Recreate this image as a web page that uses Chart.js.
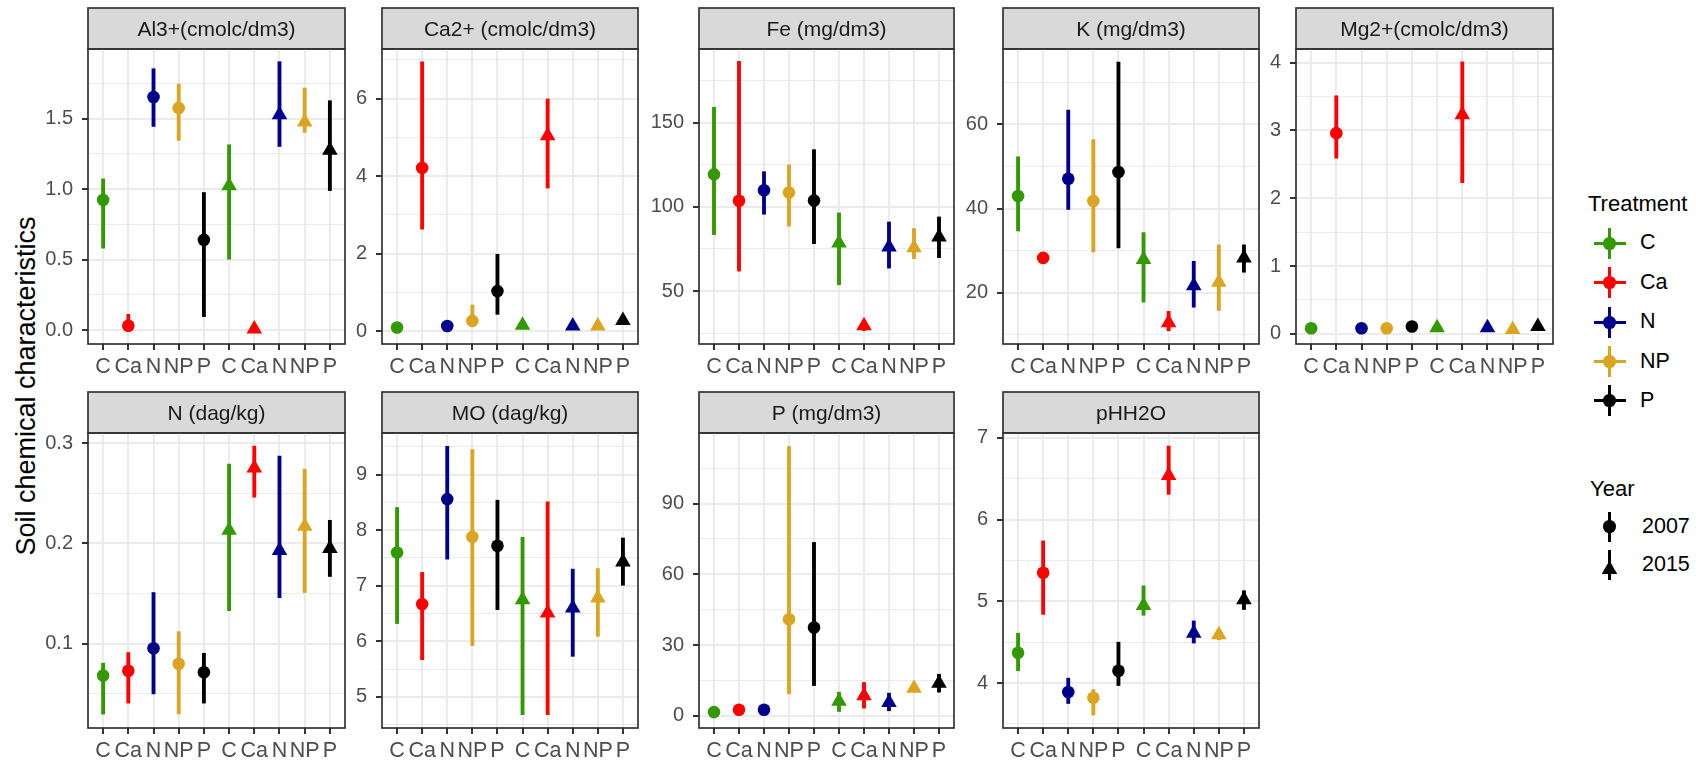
<!DOCTYPE html>
<html>
<head>
<meta charset="utf-8">
<title>Soil chemical characteristics</title>
<script src="https://cdn.jsdelivr.net/npm/chart.js@4.4.0/dist/chart.umd.min.js"></script>
<style>
  html, body { margin: 0; padding: 0; background: #ffffff; }
  body { width: 1696px; height: 764px; position: relative; overflow: hidden;
         font-family: "Liberation Sans", Arial, sans-serif; }
  canvas { position: absolute; }
  .ytitle { position: absolute; left: 26px; top: 386px; white-space: nowrap;
            transform: translate(-50%, -50%) rotate(-90deg);
            font-size: 27px; color: #000000; }
  .lg-title { position: absolute; font-size: 22px; color: #000000; line-height: 1; transform: translateY(-50%); }
  .lg-label { position: absolute; font-size: 21.5px; color: #000000; line-height: 1; transform: translateY(-50%); }
  .lg-part { position: absolute; }
</style>
</head>
<body>
<div class="ytitle">Soil chemical characteristics</div>
<script>
// ---- categories -------------------------------------------------------
const treatments = ['C', 'Ca', 'N', 'NP', 'P'];
const years = ['2007', '2015'];
const xLabels = ['C', 'Ca', 'N', 'NP', 'P', 'C', 'Ca', 'N', 'NP', 'P'];
const xYears = ['2007', '2007', '2007', '2007', '2007', '2015', '2015', '2015', '2015', '2015'];

// ---- Al3+ (cmolc/dm3) ---------------------------------------------------
const alMean = [0.924, 0.030, 1.654, 1.576, 0.640, 1.024, 0.007, 1.528, 1.476, 1.277];
const alLow  = [0.581, 0.000, 1.445, 1.346, 0.095, 0.502, -0.004, 1.303, 1.403, 0.990];
const alHigh = [1.073, 0.111, 1.855, 1.746, 0.976, 1.315, 0.020, 1.905, 1.718, 1.628];
const alTicks = [0, 0.5, 1, 1.5];
const alTickLabels = ['0.0', '0.5', '1.0', '1.5'];

// ---- Ca2+ (cmolc/dm3) ---------------------------------------------------
const caMean = [0.09, 4.21, 0.13, 0.26, 1.03, 0.15, 5.04, 0.13, 0.13, 0.27];
const caLow  = [0.03, 2.63, 0.08, 0.11, 0.43, 0.10, 3.69, 0.09, 0.09, 0.20];
const caHigh = [0.13, 6.95, 0.18, 0.67, 1.98, 0.20, 5.99, 0.17, 0.17, 0.36];
const caTicks = [0, 2, 4, 6];
const caTickLabels = ['0', '2', '4', '6'];

// ---- Fe (mg/dm3) --------------------------------------------------------
const feMean = [119.3, 103.6, 109.9, 108.5, 103.8, 78.5, 29.4, 76.1, 75.7, 82.1];
const feLow  = [83.5, 61.8, 95.6, 88.5, 78.1, 53.7, 26.5, 63.6, 69.2, 69.8];
const feHigh = [159.2, 186.5, 120.9, 124.9, 134.0, 96.4, 32.0, 91.0, 87.1, 94.0];
const feTicks = [50, 100, 150];
const feTickLabels = ['50', '100', '150'];

// ---- K (mg/dm3) ---------------------------------------------------------
const kMean = [43.0, 28.3, 47.1, 41.8, 48.7, 27.9, 12.9, 21.7, 22.5, 28.3];
const kLow  = [34.7, 27.0, 39.8, 29.7, 30.7, 17.8, 11.0, 16.6, 15.8, 24.9];
const kHigh = [52.3, 29.6, 63.4, 56.4, 74.8, 34.3, 15.6, 27.5, 31.4, 31.4];
const kTicks = [20, 40, 60];
const kTickLabels = ['20', '40', '60'];

// ---- Mg2+ (cmolc/dm3) ---------------------------------------------------
const mgMean = [0.084, 2.96, 0.084, 0.084, 0.11, 0.09, 3.23, 0.09, 0.065, 0.11];
const mgLow  = [0.06, 2.59, 0.06, 0.06, 0.08, 0.06, 2.23, 0.06, 0.045, 0.08];
const mgHigh = [0.11, 3.51, 0.11, 0.11, 0.14, 0.12, 4.01, 0.12, 0.085, 0.14];
const mgTicks = [0, 1, 2, 3, 4];
const mgTickLabels = ['0', '1', '2', '3', '4'];

// ---- N (dag/kg) ---------------------------------------------------------
const nMean = [0.0683, 0.073, 0.0955, 0.080, 0.0716, 0.213, 0.275, 0.193, 0.217, 0.195];
const nLow  = [0.0299, 0.0408, 0.050, 0.030, 0.0408, 0.133, 0.246, 0.146, 0.151, 0.167];
const nHigh = [0.0806, 0.0912, 0.151, 0.112, 0.0905, 0.279, 0.297, 0.287, 0.274, 0.223];
const nTicks = [0.1, 0.2, 0.3];
const nTickLabels = ['0.1', '0.2', '0.3'];

// ---- MO (dag/kg) --------------------------------------------------------
const moMean = [7.60, 6.67, 8.56, 7.88, 7.72, 6.75, 6.51, 6.60, 6.78, 7.43];
const moLow  = [6.32, 5.67, 7.48, 5.92, 6.57, 4.68, 4.68, 5.73, 6.09, 7.01];
const moHigh = [8.41, 7.24, 9.51, 9.45, 8.54, 7.87, 8.51, 7.30, 7.31, 7.86];
const moTicks = [5, 6, 7, 8, 9];
const moTickLabels = ['5', '6', '7', '8', '9'];

// ---- P (mg/dm3) ---------------------------------------------------------
const pMean = [1.55, 2.54, 2.54, 40.9, 37.4, 6.1, 8.5, 5.6, 11.7, 13.8];
const pLow  = [0.5, 1.6, 1.6, 9.3, 12.8, 1.8, 3.2, 2.1, 10.5, 10.0];
const pHigh = [2.3, 3.5, 3.5, 114.2, 73.5, 10.0, 14.1, 9.6, 12.9, 17.6];
const pTicks = [0, 30, 60, 90];
const pTickLabels = ['0', '30', '60', '90'];

// ---- pH (H2O) -----------------------------------------------------------
const phMean = [4.37, 5.35, 3.89, 3.82, 4.15, 4.95, 6.54, 4.61, 4.59, 5.02];
const phLow  = [4.15, 4.84, 3.75, 3.61, 3.97, 4.83, 6.31, 4.49, 4.53, 4.90];
const phHigh = [4.61, 5.74, 4.06, 3.92, 4.50, 5.19, 6.90, 4.76, 4.65, 5.13];
const phTicks = [4, 5, 6, 7];
const phTickLabels = ['4', '5', '6', '7'];

// ---- styling ------------------------------------------------------------
const FONT = '"Liberation Sans", Arial, sans-serif';
const GRID = '#EBEBEB';
const INK = '#333333';
const treatmentColors = { C: '#339900', Ca: '#FF0000', N: '#00008B', NP: '#DAA520', P: '#000000' };
const yearShapes = { '2007': 'circle', '2015': 'triangle' };
const yearRadius = { '2007': 6.3, '2015': 9 };

// facet grid geometry (pixels)
const grid = {
  strip: 41, axisW: 72, padR: 20, xAxisH: 50,
  cols: [[88, 345], [382, 638], [699, 954], [1003, 1259], [1296, 1553]],
  rows: [[49, 344], [433, 728]]
};

const panels = [
  { title: 'Al3+(cmolc/dm3)',  mean: alMean, low: alLow, high: alHigh, ticks: alTicks, labels: alTickLabels, min: -0.0995, max: 1.995, row: 0, col: 0 },
  { title: 'Ca2+ (cmolc/dm3)', mean: caMean, low: caLow, high: caHigh, ticks: caTicks, labels: caTickLabels, min: -0.336, max: 7.28, row: 0, col: 1 },
  { title: 'Fe (mg/dm3)',      mean: feMean, low: feLow, high: feHigh, ticks: feTicks, labels: feTickLabels, min: 18.5, max: 193.8, row: 0, col: 2 },
  { title: 'K (mg/dm3)',       mean: kMean,  low: kLow,  high: kHigh,  ticks: kTicks,  labels: kTickLabels,  min: 7.86, max: 77.9, row: 0, col: 3 },
  { title: 'Mg2+(cmolc/dm3)',  mean: mgMean, low: mgLow, high: mgHigh, ticks: mgTicks, labels: mgTickLabels, min: -0.148, max: 4.20, row: 0, col: 4 },
  { title: 'N (dag/kg)',       mean: nMean,  low: nLow,  high: nHigh,  ticks: nTicks,  labels: nTickLabels,  min: 0.016, max: 0.310, row: 1, col: 0 },
  { title: 'MO (dag/kg)',      mean: moMean, low: moLow, high: moHigh, ticks: moTicks, labels: moTickLabels, min: 4.44, max: 9.75, row: 1, col: 1 },
  { title: 'P (mg/dm3)',       mean: pMean,  low: pLow,  high: pHigh,  ticks: pTicks,  labels: pTickLabels,  min: -5.2, max: 119.9, row: 1, col: 2 },
  { title: 'pHH2O',            mean: phMean, low: phLow, high: phHigh, ticks: phTicks, labels: phTickLabels, min: 3.45, max: 7.06, row: 1, col: 3 }
];

// grey strip with the facet name above each panel
const stripPlugin = {
  id: 'strip',
  beforeDraw(chart, args, opts) {
    const { ctx, chartArea: a } = chart;
    const h = grid.strip;
    ctx.save();
    ctx.fillStyle = '#D9D9D9';
    ctx.fillRect(a.left, a.top - h, a.right - a.left, h);
    ctx.strokeStyle = INK;
    ctx.lineWidth = 1.7;
    ctx.strokeRect(a.left, a.top - h, a.right - a.left, h);
    ctx.fillStyle = '#1A1A1A';
    ctx.font = '21px ' + FONT;
    ctx.textAlign = 'center';
    ctx.textBaseline = 'middle';
    ctx.fillText(opts.text, (a.left + a.right) / 2, a.top - h / 2 + 2);
    ctx.restore();
  }
};

// dark border around the plotting area
const framePlugin = {
  id: 'frame',
  afterDraw(chart) {
    const { ctx, chartArea: a } = chart;
    ctx.save();
    ctx.strokeStyle = INK;
    ctx.lineWidth = 1.7;
    ctx.strokeRect(a.left, a.top, a.right - a.left, a.bottom - a.top);
    ctx.restore();
  }
};

function minorBreaks(ticks, min, max) {
  const step = ticks[1] - ticks[0];
  const out = ticks.map(t => t - step / 2).concat([ticks[ticks.length - 1] + step / 2]);
  return out.filter(v => v >= min && v <= max);
}

function makePanel(p) {
  const [L, R] = grid.cols[p.col];
  const [T, B] = grid.rows[p.row];
  const w = (R - L) + grid.axisW + grid.padR;
  const h = (B - T) + grid.strip + 2 + grid.xAxisH;
  const cv = document.createElement('canvas');
  cv.width = w; cv.height = h;
  cv.style.width = w + 'px'; cv.style.height = h + 'px';
  cv.style.left = (L - grid.axisW) + 'px';
  cv.style.top = (T - grid.strip - 2) + 'px';
  document.body.appendChild(cv);

  const colors = xLabels.map(t => treatmentColors[t]);
  const shapes = xYears.map(y => yearShapes[y]);
  const radii = xYears.map(y => yearRadius[y]);
  const minors = minorBreaks(p.ticks, p.min, p.max);
  const isMajor = v => p.ticks.some(t => Math.abs(t - v) < 1e-9);
  const yTickValues = p.ticks.concat(minors).sort((a, b) => a - b);

  new Chart(cv, {
    type: 'scatter',
    data: {
      datasets: [
        {
          type: 'bar',
          data: p.mean.map((m, i) => ({ x: i, y: [p.low[i], p.high[i]] })),
          backgroundColor: colors,
          borderWidth: 0,
          barThickness: 3.2,
          grouped: false,
          order: 1
        },
        {
          type: 'scatter',
          data: p.mean.map((m, i) => ({ x: i, y: m })),
          pointStyle: shapes,
          pointRadius: radii,
          backgroundColor: colors,
          borderColor: colors,
          borderWidth: 0,
          order: 0
        }
      ]
    },
    options: {
      responsive: false,
      animation: false,
      devicePixelRatio: 1,
      events: [],
      layout: { padding: { left: 0, right: grid.padR, top: grid.strip + 2, bottom: 0 }, autoPadding: false },
      plugins: {
        legend: { display: false },
        tooltip: { enabled: false },
        strip: { text: p.title }
      },
      scales: {
        x: {
          type: 'linear', min: -0.6, max: 9.6, offset: false,
          afterBuildTicks: s => { s.ticks = xLabels.map((_, i) => ({ value: i })); },
          afterFit: s => { s.height = grid.xAxisH; },
          ticks: {
            autoSkip: false, maxRotation: 0, minRotation: 0, padding: 4,
            color: '#4D4D4D', font: { family: FONT, size: 21.5 },
            callback: v => xLabels[v]
          },
          grid: { color: GRID, lineWidth: 2, tickColor: INK, tickLength: 6, tickWidth: 2, offset: false },
          border: { display: false }
        },
        y: {
          type: 'linear', min: p.min, max: p.max,
          afterBuildTicks: s => { s.ticks = yTickValues.map(v => ({ value: v })); },
          afterFit: s => { s.width = grid.axisW; },
          ticks: {
            autoSkip: false, padding: 9,
            color: '#4D4D4D', font: { family: FONT, size: 20 },
            callback: v => {
              const k = p.ticks.findIndex(t => Math.abs(t - v) < 1e-9);
              return k >= 0 ? p.labels[k] : '';
            }
          },
          grid: {
            color: GRID,
            lineWidth: c => (c.tick && isMajor(c.tick.value)) ? 2 : 1.1,
            tickColor: c => (c.tick && isMajor(c.tick.value)) ? INK : 'rgba(0,0,0,0)',
            tickLength: 6, tickWidth: 2
          },
          border: { display: false }
        }
      }
    },
    plugins: [stripPlugin, framePlugin]
  });
}

panels.forEach(makePanel);

// ---- legends ------------------------------------------------------------
function part(x, y, w, h, css) {
  const d = document.createElement('div');
  d.className = 'lg-part';
  d.style.left = (x - w / 2) + 'px';
  d.style.top = (y - h / 2) + 'px';
  d.style.width = w + 'px';
  d.style.height = h + 'px';
  Object.assign(d.style, css);
  document.body.appendChild(d);
}
function text(cls, x, y, str) {
  const d = document.createElement('div');
  d.className = cls;
  d.style.left = x + 'px';
  d.style.top = y + 'px';
  d.textContent = str;
  document.body.appendChild(d);
}

const keyX = 1609.5;
text('lg-title', 1588, 204, 'Treatment');
const treatmentKeyY = [243.3, 282.7, 322.3, 361.7, 400.7];
treatments.forEach((t, i) => {
  const y = treatmentKeyY[i];
  const c = treatmentColors[t];
  part(keyX, y, 32, 3, { background: c });
  part(keyX, y, 3, 31, { background: c });
  part(keyX, y, 12.6, 12.6, { background: c, borderRadius: '50%' });
  text('lg-label', 1640, y, t);
});

text('lg-title', 1590, 489, 'Year');
const yearKeyY = [526.7, 565];
years.forEach((yr, i) => {
  const y = yearKeyY[i];
  part(keyX, y, 3, 30, { background: '#000000' });
  if (yearShapes[yr] === 'circle') {
    part(keyX, y, 12.6, 12.6, { background: '#000000', borderRadius: '50%' });
  } else {
    // triangle with its centroid on the key centre
    const r = yearRadius[yr];
    const w = r * Math.sqrt(3), h = 1.5 * r;
    part(keyX, y + r / 4, w, h, { background: '#000000', clipPath: 'polygon(50% 0, 100% 100%, 0 100%)' });
  }
  text('lg-label', 1642, y, yr);
});
</script>
</body>
</html>
